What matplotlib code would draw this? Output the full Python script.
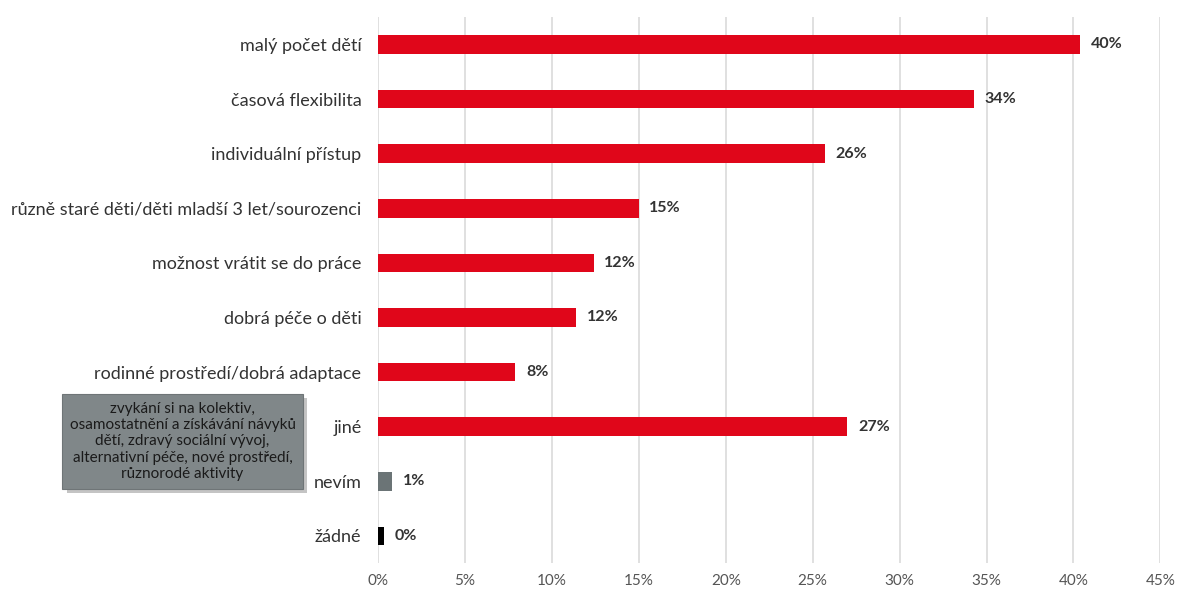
import matplotlib.pyplot as plt
from matplotlib.patches import FancyBboxPatch

plt.rcParams["font.family"] = ["Lato", "DejaVu Sans"]

categories = ["malý počet dětí", "časová flexibilita", "individuální přístup",
              "různě staré děti/děti mladší 3 let/sourozenci",
              "možnost vrátit se do práce", "dobrá péče o děti",
              "rodinné prostředí/dobrá adaptace", "jiné", "nevím", "žádné"]
values = [40.4, 34.3, 25.7, 15.0, 12.4, 11.4, 7.9, 27.0, 0.8, 0.35]
value_labels = ["40%", "34%", "26%", "15%", "12%", "12%", "8%", "27%", "1%", "0%"]
colors = ["#e0061a"] * 8 + ["#6b7476", "#000000"]
note = ("zvykání si na kolektiv,\nosamostatnění a získávání návyků\n"
        "dětí, zdravý sociální vývoj,\nalternativní péče, nové prostředí,\n"
        "různorodé aktivity")

fig = plt.figure(figsize=(11.78, 5.91), dpi=100)
ax = fig.add_axes([0.321, 0.047, 0.664, 0.924])

y = list(range(len(categories)))
ax.barh(y, values, height=0.34, color=colors, zorder=3)
for yi, v, lab in zip(y, values, value_labels):
    ax.text(v + 0.6, yi, lab, va="center", ha="left", fontsize=11.5,
            fontweight="bold", color="#333333")

ax.set_ylim(len(categories) - 0.5, -0.5)
ax.set_xlim(0, 45)
ax.set_xticks(range(0, 50, 5))
ax.set_xticklabels([f"{t}%" for t in range(0, 50, 5)], fontsize=11, color="#555555")
ax.set_yticks(y)
ax.set_yticklabels(categories, fontsize=13, color="#333333")
ax.tick_params(length=0, pad=12)
ax.tick_params(axis="x", pad=8)
ax.grid(axis="x", color="#dadada", linewidth=1.2, zorder=0)
for s in ax.spines.values():
    s.set_visible(False)

# grey note box with shadow
shadow = FancyBboxPatch((0.057, 0.165), 0.204, 0.162, boxstyle="square,pad=0",
                        transform=fig.transFigure, facecolor="#c4c4c4",
                        edgecolor="none", zorder=1)
box = FancyBboxPatch((0.053, 0.172), 0.204, 0.162, boxstyle="square,pad=0",
                     transform=fig.transFigure, facecolor="#808789",
                     edgecolor="#6f7577", linewidth=0.8, zorder=2)
fig.patches.extend([shadow, box])
fig.text(0.155, 0.253, note, ha="center", va="center", fontsize=11,
         color="#1a1a1a", linespacing=1.2, zorder=3)

fig.savefig("out.png", dpi=100)
